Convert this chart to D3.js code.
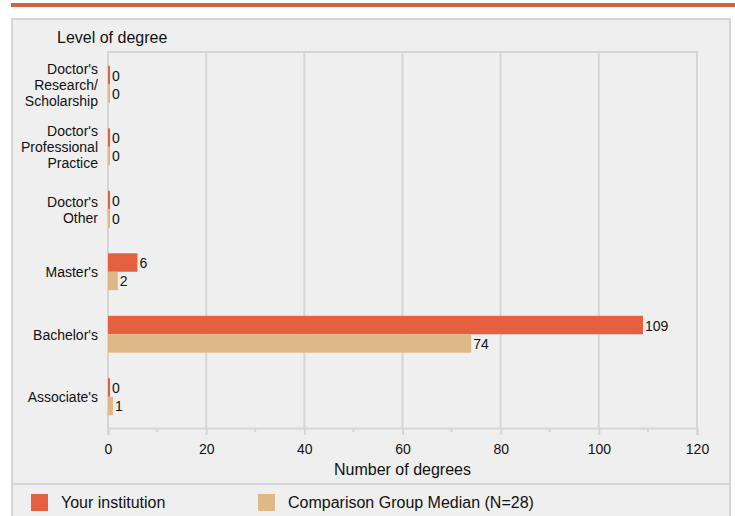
<!DOCTYPE html>
<html>
<head>
<meta charset="utf-8">
<script src="https://cdn.jsdelivr.net/npm/d3@7"></script>
<style>
  body { margin: 0; background: #fff; font-family: "Liberation Sans", Arial, sans-serif; }
  svg text { font-family: "Liberation Sans", Arial, sans-serif; fill: #111; }
</style>
</head>
<body>
<svg id="chart" width="735" height="516"></svg>
<script>
// chart data
var categories = [
    ["Doctor's", "Research/", "Scholarship"],
    ["Doctor's", "Professional", "Practice"],
    ["Doctor's", "Other"],
    ["Master's"],
    ["Bachelor's"],
    ["Associate's"]
];
var yourInstitution = [0, 0, 0, 6, 109, 0];
var comparisonMedian = [0, 0, 0, 2, 74, 1];
var xTicks = [0, 20, 40, 60, 80, 100, 120];
var seriesNames = ["Your institution", "Comparison Group Median (N=28)"];

var ORANGE = "#e4603e";
var TAN = "#dfb887";
var GRID = "#d5d5d5";
var BAR_MIN = 2;

var svg = d3.select("#chart");

// top accent stripe + grey panel
svg.append("rect").attr("x", 11).attr("y", 3).attr("width", 724).attr("height", 4).attr("fill", "#d9603c");
svg.append("rect").attr("x", 12).attr("y", 19).attr("width", 718).attr("height", 500)
    .attr("fill", "#efefef").attr("stroke", GRID).attr("stroke-width", 2);

var margin = {left: 108, right: 697, top: 53, bottom: 428};

var x = d3.scaleLinear().domain([0, 120]).range([margin.left, margin.right]);
var y = d3.scaleBand().domain(d3.range(categories.length)).range([margin.top, margin.bottom]).paddingInner(0.41).paddingOuter(0.205);

// grid
var g = svg.append("g");
g.selectAll("line.grid").data(xTicks).enter().append("line")
    .attr("x1", function(d) { return x(d); }).attr("x2", function(d) { return x(d); })
    .attr("y1", margin.top - 1).attr("y2", margin.bottom)
    .attr("stroke", GRID).attr("stroke-width", 2);
g.append("line").attr("x1", margin.left - 1).attr("x2", margin.right + 1)
    .attr("y1", margin.top - 1).attr("y2", margin.top - 1)
    .attr("stroke", GRID).attr("stroke-width", 2);

// x axis
var axis = svg.append("g").attr("transform", "translate(0," + margin.bottom + ")")
    .call(d3.axisBottom(x).tickValues(xTicks).tickSize(7).tickPadding(9));
axis.select(".domain").attr("stroke", GRID).attr("stroke-width", 2);
axis.selectAll(".tick line").attr("stroke", GRID).attr("stroke-width", 2);
axis.selectAll("text").attr("font-size", 14).style("fill", "#111");

var minor = d3.range(10, 120, 20);
svg.selectAll("line.minor").data(minor).enter().append("line")
    .attr("x1", function(d) { return x(d); }).attr("x2", function(d) { return x(d); })
    .attr("y1", margin.bottom).attr("y2", margin.bottom + 4)
    .attr("stroke", GRID).attr("stroke-width", 2);

svg.append("text").attr("x", (margin.left + margin.right) / 2).attr("y", 475)
    .attr("text-anchor", "middle").attr("font-size", 16).text("Number of degrees");

svg.append("text").attr("x", 57).attr("y", 43).attr("font-size", 16).text("Level of degree");

// category labels
var bh = y.bandwidth() / 2;
categories.forEach(function(lines, i) {
    var cy = y(i) + bh;
    var t = svg.append("text").attr("text-anchor", "end").attr("font-size", 14);
    lines.forEach(function(l, j) {
        t.append("tspan").attr("x", 98)
            .attr("y", cy + (j - (lines.length - 1) / 2) * 16 + 5.5)
            .text(l);
    });
});

// bars
function drawSeries(values, color, offset) {
    svg.selectAll(null).data(values).enter().append("rect")
        .attr("x", x(0))
        .attr("y", function(d, i) { return y(i) + offset; })
        .attr("width", function(d) { return Math.max(BAR_MIN, x(d) - x(0)); })
        .attr("height", bh)
        .attr("fill", color);
    svg.selectAll(null).data(values).enter().append("text")
        .attr("x", function(d) { return x(0) + Math.max(BAR_MIN, x(d) - x(0)) + 2; })
        .attr("y", function(d, i) { return y(i) + offset + bh / 2 + 5.5; })
        .attr("font-size", 14)
        .text(function(d) { return d; });
}
drawSeries(yourInstitution, ORANGE, 0);
drawSeries(comparisonMedian, TAN, bh);

// legend
svg.append("line").attr("x1", 12).attr("x2", 730).attr("y1", 484).attr("y2", 484)
    .attr("stroke", GRID).attr("stroke-width", 2);
var legendX = [31, 258];
[ORANGE, TAN].forEach(function(c, i) {
    svg.append("rect").attr("x", legendX[i]).attr("y", 494).attr("width", 17).attr("height", 17).attr("fill", c);
    svg.append("text").attr("x", legendX[i] + 30).attr("y", 508).attr("font-size", 16).text(seriesNames[i]);
});
</script>
</body>
</html>
